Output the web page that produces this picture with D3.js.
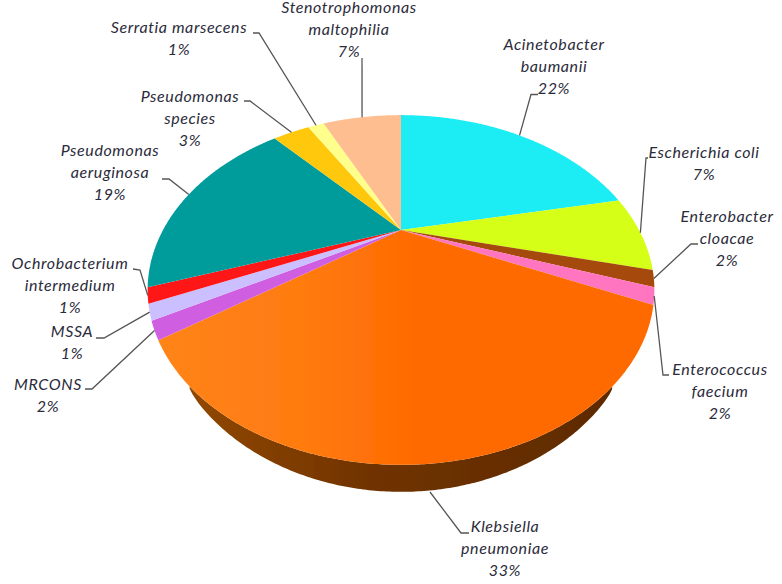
<!DOCTYPE html>
<html>
<head>
<meta charset="utf-8">
<script src="https://cdn.jsdelivr.net/npm/d3@7"></script>
<style>
	html, body { margin: 0; padding: 0; background: #fff; }
	text { font-family: Lato, sans-serif; font-style: italic; font-size: 16px; letter-spacing: 0.6px; fill: #2b2b3a; }
</style>
</head>
<body>
<svg id="chart" width="782" height="584"></svg>
<script>
// values, clockwise from the top
const categories = [
	"Acinetobacter baumanii",
	"Escherichia coli",
	"Enterobacter cloacae",
	"Enterococcus faecium",
	"Klebsiella pneumoniae",
	"MRCONS",
	"MSSA",
	"Ochrobacterium intermedium",
	"Pseudomonas aeruginosa",
	"Pseudomonas species",
	"Serratia marsecens",
	"Stenotrophomonas maltophilia",
];
// slice sizes, the printed labels are rounded
const shares = [21.7, 7.1, 1.5, 1.5, 33.4, 1.6, 1.4, 1.4, 18.7, 3.2, 1.4, 7.0];
const shareLabels = ["22%", "7%", "2%", "2%", "33%", "2%", "1%", "1%", "19%", "3%", "1%", "7%"];

const sliceColors = [
	"#1eecf4", "#d5ff14", "#a5480a", "#ff75c0", "url(#orangeFace)", "#cf5fe0",
	"#cbbfff", "#ff1414", "#009c9c", "#ffc80f", "#ffff8c", "#ffbe8f",
];

// label placement, same order as categories
const labelLines = [
	["Acinetobacter", "baumanii"],
	["Escherichia coli"],
	["Enterobacter", "cloacae"],
	["Enterococcus", "faecium"],
	["Klebsiella", "pneumoniae"],
	["MRCONS"],
	["MSSA"],
	["Ochrobacterium", "intermedium"],
	["Pseudomonas", "aeruginosa"],
	["Pseudomonas", "species"],
	["Serratia marsecens"],
	["Stenotrophomonas", "maltophilia"],
];
const labelX = [554, 704, 727, 720, 505, 48, 72, 70, 110, 190, 179, 349];
const labelY = [50, 158, 222, 375, 532, 390, 337, 269, 156, 102, 33, 13];
const elbows = [
	[[538, 94.5], [531, 94.5]],
	[[648, 158], [646, 158]],
	[[698, 244], [691, 244]],
	[[669, 375], [663, 375]],
	[[469, 533], [461, 533]],
	[[85, 389], [92, 389]],
	[[96, 338], [104, 338]],
	[[133, 269], [140, 270]],
	[[162, 179], [169, 179]],
	[[244, 101], [250, 101]],
	[[253, 33], [259, 33]],
	[[362, 58]],
];

const svg = d3.select("#chart");

// the pie is seen in perspective: a unit circle goes through this projection,
// so the centre lands above the middle of the ellipse
const tilt = 0.343;
const scaleX = d3.scaleLinear().domain([-1, 1]).range([163, 639]);
const scaleY = d3.scaleLinear().domain([-1, 1]).range([75.7, 384.3]);

function project(angle) {
	const u = Math.sin(angle);
	const v = -Math.cos(angle);
	const d = 1 - tilt * v;
	return [scaleX(u / d), scaleY(v / d)];
}

function arcAngles(a0, a1) {
	const n = Math.max(2, Math.ceil((a1 - a0) / 0.008));
	return d3.range(n + 1).map((i) => a0 + ((a1 - a0) * i) / n);
}

const arcs = d3.pie().sort(null)(shares);
const apex = [scaleX(0), scaleY(0)];
const line = d3.line();

const defs = svg.append("defs");
defs.append("filter")
	.attr("id", "soft")
	.append("feGaussianBlur")
	.attr("stdDeviation", 0.45);

const face = defs.append("linearGradient")
	.attr("id", "orangeFace")
	.attr("gradientUnits", "userSpaceOnUse")
	.attr("x1", 160).attr("x2", 420).attr("y1", 0).attr("y2", 0);
face.append("stop").attr("offset", 0).attr("stop-color", "#ff8419");
face.append("stop").attr("offset", 0.55).attr("stop-color", "#ff7b10");
face.append("stop").attr("offset", 1).attr("stop-color", "#ff6a00");

const side = defs.append("linearGradient")
	.attr("id", "orangeSide")
	.attr("gradientUnits", "userSpaceOnUse")
	.attr("x1", 188).attr("x2", 612).attr("y1", 0).attr("y2", 0);
side.append("stop").attr("offset", 0).attr("stop-color", "#914800");
side.append("stop").attr("offset", 0.45).attr("stop-color", "#6f3200");
side.append("stop").attr("offset", 1).attr("stop-color", "#5f2b00");

const pieGroup = svg.append("g").attr("filter", "url(#soft)");

// rim under the orange slice, its depth fades out towards both sides
const rimDepth = 27;
const rimHalfWidth = 212;
const big = arcs[4];
const rimTop = arcAngles(big.startAngle, big.endAngle)
	.map(project)
	.filter((p) => Math.abs(p[0] - apex[0]) < rimHalfWidth);
const rimBottom = rimTop.map((p) => {
	const t = (p[0] - apex[0]) / rimHalfWidth;
	return [p[0], p[1] + rimDepth * Math.sqrt(1 - t * t)];
});
pieGroup.append("path")
	.attr("d", line(rimTop.concat(rimBottom.reverse())) + "Z")
	.attr("fill", "url(#orangeSide)");

pieGroup.selectAll("path.slice")
	.data(arcs)
	.join("path")
	.attr("class", "slice")
	.attr("d", (d) => line([apex].concat(arcAngles(d.startAngle, d.endAngle).map(project))) + "Z")
	.attr("fill", (d, i) => sliceColors[i]);

// leader lines end on the middle of the slice edge, except the big one which
// reaches down to the rim
const leaders = arcs.map((d, i) => {
	const end = i === 4 ? [430, 492] : project((d.startAngle + d.endAngle) / 2);
	return elbows[i].concat([end]);
});
svg.selectAll("path.leader")
	.data(leaders)
	.join("path")
	.attr("class", "leader")
	.attr("d", line)
	.attr("fill", "none")
	.attr("stroke", "#555")
	.attr("stroke-width", 1.3);

const labels = svg.selectAll("text.label")
	.data(categories)
	.join("text")
	.attr("class", "label")
	.attr("text-anchor", "middle")
	.attr("x", (d, i) => labelX[i])
	.attr("y", (d, i) => labelY[i]);

labels.selectAll("tspan")
	.data((d, i) => labelLines[i].concat([shareLabels[i]]).map((t) => ({ t, i })))
	.join("tspan")
	.attr("x", (d) => labelX[d.i])
	.attr("dy", (d, j) => (j === 0 ? 0 : 22))
	.text((d) => d.t);
</script>
</body>
</html>
